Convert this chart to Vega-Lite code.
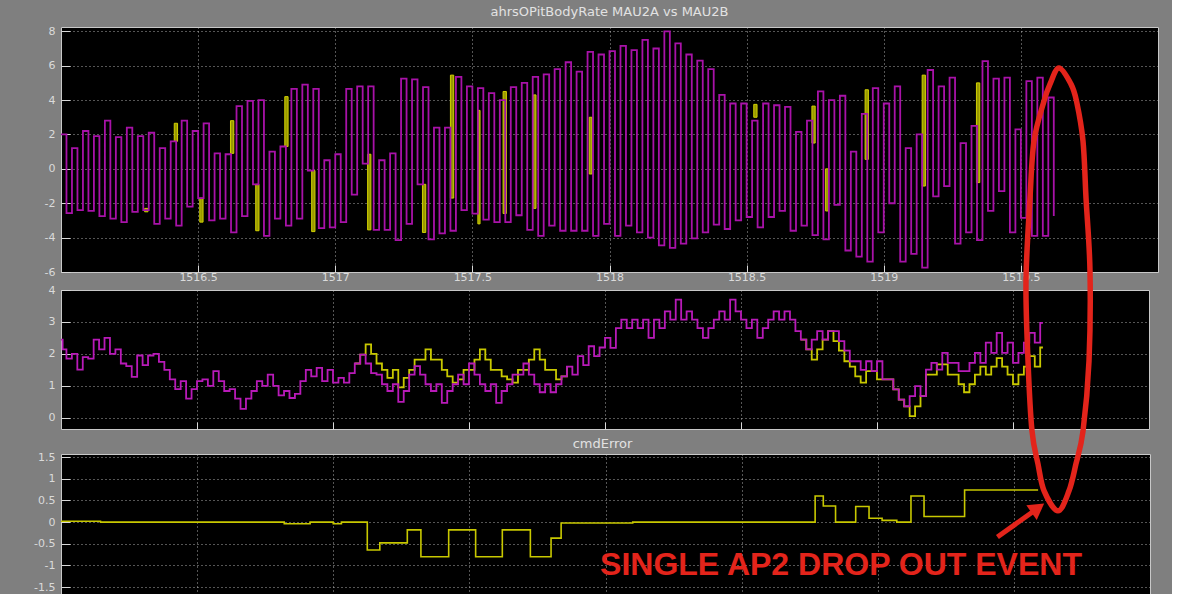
{
  "$schema": "https://vega.github.io/schema/vega-lite/v6.json",
  "background": "#7f7f7f",
  "padding": {"left": 0, "top": 0, "right": 13, "bottom": 0},
  "config": {
    "view": {"fill": "#000000", "stroke": "#c8c8c8", "strokeWidth": 1},
    "axis": {
      "labelColor": "#dadada", "labelFont": "DejaVu Sans", "labelFontSize": 11,
      "gridColor": "#c8c8c8", "gridDash": [1, 3], "gridWidth": 1, "gridOpacity": 0.85,
      "domain": false, "tickColor": "#d8d8d8", "tickWidth": 1
    },
    "title": {"color": "#e2e2e2", "font": "DejaVu Sans", "fontSize": 13, "fontWeight": "normal", "anchor": "middle", "frame": "group", "baseline": "alphabetic", "offset": 6}
  },
  "datasets": {
    "topB": [
{"t":1516.00,"v":2.0},{"t":1516.02,"v":-2.57},{"t":1516.04,"v":1.2},{"t":1516.06,"v":-2.4},{"t":1516.08,"v":2.2},{"t":1516.10,"v":-2.45},{"t":1516.12,"v":1.9},{"t":1516.14,"v":-2.75},{"t":1516.16,"v":2.8},{"t":1516.18,"v":-2.9},{"t":1516.20,"v":1.85},{"t":1516.22,"v":-3.1},{"t":1516.24,"v":2.4},{"t":1516.26,"v":-2.5},{"t":1516.28,"v":1.9},{"t":1516.30,"v":-2.4},{"t":1516.32,"v":2.1},{"t":1516.34,"v":-3.2},{"t":1516.36,"v":1.2},{"t":1516.38,"v":-2.9},{"t":1516.40,"v":1.6},{"t":1516.42,"v":-3.3},{"t":1516.44,"v":2.8},{"t":1516.46,"v":-2.2},{"t":1516.48,"v":2.2},{"t":1516.50,"v":-1.7},{"t":1516.52,"v":2.65},{"t":1516.54,"v":-3.0},{"t":1516.56,"v":0.9},{"t":1516.58,"v":-2.9},{"t":1516.60,"v":0.85},{"t":1516.62,"v":-3.7},{"t":1516.64,"v":3.65},{"t":1516.66,"v":-2.75},{"t":1516.68,"v":3.95},{"t":1516.70,"v":-0.9},{"t":1516.72,"v":4.0},{"t":1516.74,"v":-3.9},{"t":1516.76,"v":1.0},{"t":1516.78,"v":-2.9},{"t":1516.80,"v":1.3},{"t":1516.82,"v":-3.3},{"t":1516.84,"v":4.65},{"t":1516.86,"v":-2.9},{"t":1516.88,"v":4.9},{"t":1516.90,"v":-0.1},{"t":1516.92,"v":4.65},{"t":1516.94,"v":-3.45},{"t":1516.96,"v":0.5},{"t":1516.98,"v":-3.4},{"t":1517.00,"v":0.85},{"t":1517.02,"v":-3.1},{"t":1517.04,"v":4.65},{"t":1517.06,"v":-1.5},{"t":1517.08,"v":4.8},{"t":1517.10,"v":0.3},{"t":1517.12,"v":4.8},{"t":1517.14,"v":-3.55},{"t":1517.16,"v":0.5},{"t":1517.18,"v":-3.55},{"t":1517.20,"v":0.9},{"t":1517.22,"v":-4.15},{"t":1517.24,"v":5.25},{"t":1517.26,"v":-3.2},{"t":1517.28,"v":5.2},{"t":1517.30,"v":-0.9},{"t":1517.32,"v":4.75},{"t":1517.34,"v":-4.1},{"t":1517.36,"v":2.4},{"t":1517.38,"v":-3.75},{"t":1517.40,"v":2.4},{"t":1517.42,"v":-3.6},{"t":1517.44,"v":5.35},{"t":1517.46,"v":-2.4},{"t":1517.48,"v":4.8},{"t":1517.50,"v":-2.6},{"t":1517.52,"v":4.7},{"t":1517.54,"v":-2.95},{"t":1517.56,"v":4.4},{"t":1517.58,"v":-3.1},{"t":1517.60,"v":4.0},{"t":1517.62,"v":-3.1},{"t":1517.64,"v":4.75},{"t":1517.66,"v":-2.7},{"t":1517.68,"v":5.0},{"t":1517.70,"v":-3.55},{"t":1517.72,"v":5.35},{"t":1517.74,"v":-3.9},{"t":1517.76,"v":5.5},{"t":1517.78,"v":-3.3},{"t":1517.80,"v":5.8},{"t":1517.82,"v":-3.6},{"t":1517.84,"v":6.2},{"t":1517.86,"v":-3.6},{"t":1517.88,"v":5.65},{"t":1517.90,"v":-3.6},{"t":1517.92,"v":6.8},{"t":1517.94,"v":-3.9},{"t":1517.96,"v":6.65},{"t":1517.98,"v":-3.2},{"t":1518.00,"v":6.85},{"t":1518.02,"v":-3.9},{"t":1518.04,"v":7.15},{"t":1518.06,"v":-3.3},{"t":1518.08,"v":6.9},{"t":1518.10,"v":-3.7},{"t":1518.12,"v":7.5},{"t":1518.14,"v":-4.0},{"t":1518.16,"v":7.0},{"t":1518.18,"v":-4.45},{"t":1518.20,"v":8.0},{"t":1518.22,"v":-4.6},{"t":1518.24,"v":7.3},{"t":1518.26,"v":-4.35},{"t":1518.28,"v":6.65},{"t":1518.30,"v":-4.05},{"t":1518.32,"v":6.3},{"t":1518.34,"v":-3.7},{"t":1518.36,"v":5.8},{"t":1518.38,"v":-3.25},{"t":1518.40,"v":4.3},{"t":1518.42,"v":-3.5},{"t":1518.44,"v":3.8},{"t":1518.46,"v":-3.0},{"t":1518.48,"v":3.8},{"t":1518.50,"v":-2.8},{"t":1518.52,"v":2.8},{"t":1518.54,"v":-3.4},{"t":1518.56,"v":3.8},{"t":1518.58,"v":-2.8},{"t":1518.60,"v":3.7},{"t":1518.62,"v":-2.45},{"t":1518.64,"v":3.6},{"t":1518.66,"v":-3.6},{"t":1518.68,"v":2.15},{"t":1518.70,"v":-3.3},{"t":1518.72,"v":2.8},{"t":1518.74,"v":-3.85},{"t":1518.76,"v":4.5},{"t":1518.78,"v":-4.1},{"t":1518.80,"v":4.0},{"t":1518.82,"v":-2.1},{"t":1518.84,"v":4.25},{"t":1518.86,"v":-4.75},{"t":1518.88,"v":1.0},{"t":1518.90,"v":-5.1},{"t":1518.92,"v":3.2},{"t":1518.94,"v":-5.4},{"t":1518.96,"v":4.7},{"t":1518.98,"v":-3.7},{"t":1519.00,"v":3.8},{"t":1519.02,"v":-2.0},{"t":1519.04,"v":4.8},{"t":1519.06,"v":-5.4},{"t":1519.08,"v":1.2},{"t":1519.10,"v":-4.95},{"t":1519.12,"v":2.0},{"t":1519.14,"v":-5.75},{"t":1519.16,"v":5.75},{"t":1519.18,"v":-1.6},{"t":1519.20,"v":4.8},{"t":1519.22,"v":-1.0},{"t":1519.24,"v":5.3},{"t":1519.26,"v":-4.35},{"t":1519.28,"v":1.5},{"t":1519.30,"v":-3.7},{"t":1519.32,"v":2.5},{"t":1519.34,"v":-4.15},{"t":1519.36,"v":6.27},{"t":1519.38,"v":-2.45},{"t":1519.40,"v":5.25},{"t":1519.42,"v":-1.3},{"t":1519.44,"v":5.3},{"t":1519.46,"v":-3.7},{"t":1519.48,"v":2.3},{"t":1519.50,"v":-2.85},{"t":1519.52,"v":5.1},{"t":1519.54,"v":-3.9},{"t":1519.56,"v":5.3},{"t":1519.58,"v":-3.9},{"t":1519.60,"v":4.15},{"t":1519.62,"v":-2.75}
    ],
    "topA": [
{"t":1516.305,"t2":1516.317,"v1":-2.3,"v2":-2.5},{"t":1516.413,"t2":1516.425,"v1":1.6,"v2":2.65},{"t":1516.506,"t2":1516.518,"v1":-1.7,"v2":-3.1},{"t":1516.618,"t2":1516.630,"v1":0.9,"v2":2.8},{"t":1516.710,"t2":1516.722,"v1":-0.9,"v2":-3.6},{"t":1516.816,"t2":1516.828,"v1":1.3,"v2":4.2},{"t":1516.914,"t2":1516.926,"v1":-0.1,"v2":-3.65},{"t":1517.118,"t2":1517.130,"v1":0.85,"v2":-3.55},{"t":1517.318,"t2":1517.330,"v1":-0.9,"v2":-3.7},{"t":1517.420,"t2":1517.432,"v1":-1.7,"v2":5.45},{"t":1517.520,"t2":1517.528,"v1":-3.2,"v2":3.4},{"t":1517.612,"t2":1517.624,"v1":-2.6,"v2":4.5},{"t":1517.722,"t2":1517.732,"v1":-2.3,"v2":4.3},{"t":1517.926,"t2":1517.936,"v1":-0.3,"v2":3.0},{"t":1518.526,"t2":1518.538,"v1":3.0,"v2":3.75},{"t":1518.738,"t2":1518.750,"v1":1.5,"v2":3.65},{"t":1518.788,"t2":1518.798,"v1":-2.45,"v2":0.0},{"t":1518.932,"t2":1518.944,"v1":0.55,"v2":4.6},{"t":1519.140,"t2":1519.152,"v1":-1.0,"v2":5.45},{"t":1519.338,"t2":1519.350,"v1":-0.8,"v2":5.0}
    ],
    "midB": [
{"t":1516.000,"v":2.45},{"t":1516.006,"v":2.14},{"t":1516.02,"v":1.85},{"t":1516.04,"v":2.0},{"t":1516.06,"v":1.51},{"t":1516.08,"v":1.9},{"t":1516.10,"v":1.85},{"t":1516.12,"v":2.45},{"t":1516.14,"v":2.14},{"t":1516.16,"v":2.5},{"t":1516.18,"v":2.0},{"t":1516.20,"v":2.14},{"t":1516.22,"v":1.7},{"t":1516.24,"v":1.62},{"t":1516.26,"v":1.28},{"t":1516.28,"v":1.95},{"t":1516.30,"v":1.65},{"t":1516.32,"v":1.95},{"t":1516.34,"v":2.0},{"t":1516.36,"v":1.75},{"t":1516.38,"v":1.5},{"t":1516.40,"v":1.2},{"t":1516.42,"v":0.9},{"t":1516.44,"v":1.15},{"t":1516.46,"v":0.6},{"t":1516.48,"v":0.9},{"t":1516.50,"v":1.15},{"t":1516.52,"v":1.2},{"t":1516.54,"v":1.0},{"t":1516.56,"v":1.46},{"t":1516.58,"v":1.15},{"t":1516.60,"v":0.84},{"t":1516.62,"v":0.9},{"t":1516.64,"v":0.6},{"t":1516.66,"v":0.28},{"t":1516.68,"v":0.6},{"t":1516.70,"v":0.84},{"t":1516.72,"v":1.15},{"t":1516.74,"v":1.0},{"t":1516.76,"v":1.35},{"t":1516.78,"v":1.0},{"t":1516.80,"v":0.7},{"t":1516.82,"v":0.84},{"t":1516.84,"v":0.62},{"t":1516.86,"v":0.75},{"t":1516.88,"v":1.15},{"t":1516.90,"v":1.5},{"t":1516.92,"v":1.3},{"t":1516.94,"v":1.56},{"t":1516.96,"v":1.15},{"t":1516.98,"v":1.5},{"t":1517.00,"v":1.1},{"t":1517.02,"v":1.25},{"t":1517.04,"v":1.1},{"t":1517.06,"v":1.4},{"t":1517.08,"v":1.7},{"t":1517.10,"v":1.98},{"t":1517.12,"v":1.7},{"t":1517.14,"v":1.4},{"t":1517.16,"v":1.35},{"t":1517.18,"v":1.05},{"t":1517.20,"v":0.84},{"t":1517.22,"v":1.05},{"t":1517.24,"v":0.5},{"t":1517.26,"v":0.84},{"t":1517.28,"v":1.35},{"t":1517.30,"v":1.62},{"t":1517.32,"v":1.35},{"t":1517.34,"v":1.05},{"t":1517.36,"v":0.84},{"t":1517.38,"v":1.05},{"t":1517.40,"v":0.47},{"t":1517.42,"v":0.84},{"t":1517.44,"v":1.05},{"t":1517.46,"v":1.35},{"t":1517.48,"v":1.05},{"t":1517.50,"v":1.7},{"t":1517.52,"v":1.35},{"t":1517.54,"v":1.05},{"t":1517.56,"v":0.84},{"t":1517.58,"v":1.05},{"t":1517.60,"v":0.47},{"t":1517.62,"v":0.84},{"t":1517.64,"v":1.05},{"t":1517.66,"v":1.35},{"t":1517.68,"v":1.35},{"t":1517.70,"v":1.7},{"t":1517.72,"v":1.35},{"t":1517.74,"v":1.05},{"t":1517.76,"v":0.8},{"t":1517.78,"v":1.05},{"t":1517.80,"v":0.8},{"t":1517.82,"v":1.05},{"t":1517.84,"v":1.3},{"t":1517.86,"v":1.6},{"t":1517.88,"v":1.35},{"t":1517.90,"v":1.93},{"t":1517.92,"v":1.65},{"t":1517.94,"v":2.24},{"t":1517.96,"v":1.93},{"t":1517.98,"v":2.2},{"t":1518.00,"v":2.5},{"t":1518.02,"v":2.19},{"t":1518.04,"v":2.81},{"t":1518.06,"v":3.07},{"t":1518.08,"v":2.81},{"t":1518.10,"v":3.07},{"t":1518.12,"v":2.81},{"t":1518.14,"v":3.07},{"t":1518.16,"v":2.5},{"t":1518.18,"v":3.07},{"t":1518.20,"v":2.81},{"t":1518.22,"v":3.33},{"t":1518.24,"v":3.07},{"t":1518.26,"v":3.7},{"t":1518.28,"v":3.07},{"t":1518.30,"v":3.33},{"t":1518.32,"v":3.07},{"t":1518.34,"v":2.81},{"t":1518.36,"v":2.5},{"t":1518.38,"v":2.81},{"t":1518.40,"v":3.07},{"t":1518.42,"v":3.33},{"t":1518.44,"v":3.07},{"t":1518.46,"v":3.7},{"t":1518.48,"v":3.33},{"t":1518.50,"v":3.07},{"t":1518.52,"v":2.81},{"t":1518.54,"v":3.07},{"t":1518.56,"v":2.5},{"t":1518.58,"v":2.81},{"t":1518.60,"v":3.07},{"t":1518.62,"v":3.33},{"t":1518.64,"v":3.07},{"t":1518.66,"v":3.33},{"t":1518.68,"v":3.07},{"t":1518.70,"v":2.71},{"t":1518.72,"v":2.45},{"t":1518.74,"v":2.14},{"t":1518.76,"v":2.45},{"t":1518.78,"v":2.71},{"t":1518.80,"v":2.45},{"t":1518.82,"v":2.71},{"t":1518.84,"v":2.71},{"t":1518.86,"v":2.4},{"t":1518.88,"v":2.1},{"t":1518.90,"v":1.77},{"t":1518.92,"v":1.77},{"t":1518.94,"v":1.5},{"t":1518.96,"v":1.77},{"t":1518.98,"v":1.46},{"t":1519.00,"v":1.77},{"t":1519.02,"v":1.2},{"t":1519.04,"v":1.2},{"t":1519.06,"v":0.89},{"t":1519.08,"v":0.57},{"t":1519.10,"v":0.36},{"t":1519.12,"v":0.68},{"t":1519.14,"v":0.99},{"t":1519.16,"v":0.68},{"t":1519.18,"v":1.51},{"t":1519.20,"v":1.72},{"t":1519.22,"v":1.51},{"t":1519.24,"v":2.03},{"t":1519.26,"v":1.72},{"t":1519.28,"v":1.72},{"t":1519.30,"v":1.46},{"t":1519.32,"v":1.46},{"t":1519.34,"v":1.72},{"t":1519.36,"v":2.03},{"t":1519.38,"v":1.72},{"t":1519.40,"v":2.35},{"t":1519.42,"v":2.03},{"t":1519.44,"v":2.66},{"t":1519.46,"v":2.03},{"t":1519.48,"v":2.35},{"t":1519.50,"v":1.72},{"t":1519.52,"v":2.03},{"t":1519.54,"v":2.35},{"t":1519.56,"v":2.66},{"t":1519.58,"v":2.35},{"t":1519.60,"v":2.97},{"t":1519.61,"v":2.97}
    ],
    "midA": [
{"g":1,"t":1517.08,"v":1.7},{"g":1,"t":1517.10,"v":1.98},{"g":1,"t":1517.12,"v":2.3},{"g":1,"t":1517.14,"v":2.0},{"g":1,"t":1517.16,"v":1.7},{"g":1,"t":1517.18,"v":1.5},{"g":1,"t":1517.20,"v":1.25},{"g":1,"t":1517.22,"v":1.5},{"g":1,"t":1517.24,"v":0.95},{"g":1,"t":1517.26,"v":1.25},{"g":1,"t":1517.28,"v":1.5},{"g":1,"t":1517.30,"v":1.82},{"g":1,"t":1517.32,"v":1.82},{"g":1,"t":1517.34,"v":2.14},{"g":1,"t":1517.36,"v":1.82},{"g":1,"t":1517.38,"v":1.82},{"g":1,"t":1517.40,"v":1.5},{"g":1,"t":1517.42,"v":1.3},{"g":1,"t":1517.44,"v":1.1},{"g":1,"t":1517.46,"v":1.2},{"g":1,"t":1517.48,"v":1.5},{"g":1,"t":1517.50,"v":1.5},{"g":1,"t":1517.52,"v":1.82},{"g":1,"t":1517.54,"v":2.14},{"g":1,"t":1517.56,"v":1.82},{"g":1,"t":1517.58,"v":1.5},{"g":1,"t":1517.60,"v":1.5},{"g":1,"t":1517.62,"v":1.3},{"g":1,"t":1517.64,"v":1.2},{"g":1,"t":1517.66,"v":1.1},{"g":1,"t":1517.68,"v":1.5},{"g":1,"t":1517.70,"v":1.5},{"g":1,"t":1517.72,"v":1.82},{"g":1,"t":1517.74,"v":2.14},{"g":1,"t":1517.76,"v":1.82},{"g":1,"t":1517.78,"v":1.5},{"g":1,"t":1517.80,"v":1.5},{"g":1,"t":1517.82,"v":1.2},{"g":1,"t":1517.84,"v":1.3},{"g":1,"t":1517.86,"v":1.6},
{"g":2,"t":1518.72,"v":2.45},{"g":2,"t":1518.74,"v":2.14},{"g":2,"t":1518.76,"v":1.82},{"g":2,"t":1518.78,"v":2.14},{"g":2,"t":1518.80,"v":2.45},{"g":2,"t":1518.82,"v":2.71},{"g":2,"t":1518.84,"v":2.4},{"g":2,"t":1518.86,"v":2.1},{"g":2,"t":1518.88,"v":1.77},{"g":2,"t":1518.90,"v":1.6},{"g":2,"t":1518.92,"v":1.3},{"g":2,"t":1518.94,"v":1.1},{"g":2,"t":1518.96,"v":1.46},{"g":2,"t":1518.98,"v":1.46},{"g":2,"t":1519.00,"v":1.2},{"g":2,"t":1519.02,"v":1.2},{"g":2,"t":1519.04,"v":1.2},{"g":2,"t":1519.06,"v":0.89},{"g":2,"t":1519.08,"v":0.57},{"g":2,"t":1519.10,"v":0.36},{"g":2,"t":1519.12,"v":0.05},{"g":2,"t":1519.14,"v":0.36},{"g":2,"t":1519.16,"v":0.68},{"g":2,"t":1519.18,"v":1.35},{"g":2,"t":1519.20,"v":1.35},{"g":2,"t":1519.22,"v":1.67},{"g":2,"t":1519.24,"v":1.67},{"g":2,"t":1519.26,"v":1.35},{"g":2,"t":1519.28,"v":1.35},{"g":2,"t":1519.30,"v":1.05},{"g":2,"t":1519.32,"v":0.8},{"g":2,"t":1519.34,"v":1.05},{"g":2,"t":1519.36,"v":1.35},{"g":2,"t":1519.38,"v":1.6},{"g":2,"t":1519.40,"v":1.35},{"g":2,"t":1519.42,"v":1.6},{"g":2,"t":1519.44,"v":1.87},{"g":2,"t":1519.46,"v":1.6},{"g":2,"t":1519.48,"v":1.35},{"g":2,"t":1519.50,"v":1.05},{"g":2,"t":1519.52,"v":1.35},{"g":2,"t":1519.54,"v":1.6},{"g":2,"t":1519.56,"v":1.93},{"g":2,"t":1519.58,"v":1.6},{"g":2,"t":1519.60,"v":2.2},{"g":2,"t":1519.61,"v":2.2}
    ],
    "err": [
{"t":1516.000,"v":0.02},{"t":1516.145,"v":0.0},{"t":1516.820,"v":-0.04},{"t":1516.915,"v":0.0},{"t":1517.000,"v":-0.04},{"t":1517.030,"v":0.0},{"t":1517.125,"v":-0.645},{"t":1517.171,"v":-0.48},{"t":1517.272,"v":-0.18},{"t":1517.322,"v":-0.8},{"t":1517.424,"v":-0.18},{"t":1517.523,"v":-0.8},{"t":1517.621,"v":-0.18},{"t":1517.724,"v":-0.8},{"t":1517.800,"v":-0.37},{"t":1517.837,"v":-0.02},{"t":1518.100,"v":0.0},{"t":1518.770,"v":0.6},{"t":1518.800,"v":0.37},{"t":1518.845,"v":0.0},{"t":1518.919,"v":0.36},{"t":1518.968,"v":0.09},{"t":1519.016,"v":0.04},{"t":1519.070,"v":0.0},{"t":1519.122,"v":0.6},{"t":1519.170,"v":0.13},{"t":1519.319,"v":0.74},{"t":1519.589,"v":0.74}
    ],
    "ring": [
{"i":1,"t":1519.6657,"v":10.47},{"i":2,"t":1519.7098,"v":10.10},{"i":3,"t":1519.7300,"v":9.71},{"i":4,"t":1519.7539,"v":8.79},{"i":5,"t":1519.7650,"v":7.47},{"i":6,"t":1519.7796,"v":5.79},{"i":7,"t":1519.7760,"v":3.72},{"i":8,"t":1519.7540,"v":2.10},{"i":9,"t":1519.7280,"v":1.34},{"i":10,"t":1519.7025,"v":0.72},{"i":11,"t":1519.6620,"v":0.26},{"i":12,"t":1519.6110,"v":0.72},{"i":13,"t":1519.5886,"v":1.34},{"i":14,"t":1519.5666,"v":2.10},{"i":15,"t":1519.5519,"v":3.72},{"i":16,"t":1519.5445,"v":5.56},{"i":17,"t":1519.5592,"v":7.47},{"i":18,"t":1519.5740,"v":8.79},{"i":19,"t":1519.6107,"v":9.71},{"i":20,"t":1519.6327,"v":10.10}
    ],
    "arrow": [{"t":1519.4395,"v":-0.344,"t2":1519.575,"v2":0.26}],
    "head": [{"t":1519.588,"v":0.322}],
    "note": [{"t":1518.865,"v":-1.221,"label":"SINGLE AP2 DROP OUT EVENT"}]
  },
  "bounds": "flush",
  "spacing": 18,
  "vconcat": [
    {
      "width": 1097,
      "height": 245,
      "title": {"text": "ahrsOPitBodyRate MAU2A vs MAU2B"},
      "encoding": {
        "x": {"field": "t", "type": "quantitative", "scale": {"domain": [1516, 1520], "nice": false, "zero": false},
              "axis": {"values": [1516.5, 1517, 1517.5, 1518, 1518.5, 1519, 1519.5], "format": "~g", "grid": true, "tickSize": -7, "labelPadding": 6, "title": null}},
        "y": {"type": "quantitative", "scale": {"domain": [-6, 8.25], "nice": false, "zero": false},
              "axis": {"values": [-6, -4, -2, 0, 2, 4, 6, 8], "grid": true, "tickSize": -9, "labelPadding": 15,
                       "labelExpr": "replace(datum.label, '−', '-')", "title": null}}
      },
      "layer": [
        {
          "data": {"name": "topA"},
          "mark": {"type": "rect", "fill": "#9a9a00", "stroke": "#d0d000", "strokeWidth": 1},
          "encoding": {"x2": {"field": "t2"}, "y": {"field": "v1", "type": "quantitative"}, "y2": {"field": "v2"}}
        },
        {
          "data": {"name": "topB"},
          "mark": {"type": "line", "interpolate": "step-after", "color": "#a812a8", "strokeWidth": 1.8},
          "encoding": {"y": {"field": "v", "type": "quantitative"}}
        }
      ]
    },
    {
      "bounds": "flush",
      "spacing": 25,
      "vconcat": [
        {
          "width": 1088,
          "height": 139,
          "encoding": {
            "x": {"field": "t", "type": "quantitative", "scale": {"domain": [1516, 1520], "nice": false, "zero": false},
                  "axis": {"values": [1516.5, 1517, 1517.5, 1518, 1518.5, 1519, 1519.5], "grid": true, "labels": false, "tickSize": -7,
                           "title": "cmdError", "titleX": 541, "titleY": 18, "titleAlign": "center", "titleBaseline": "alphabetic", "titleAngle": 0,
                           "titleColor": "#e2e2e2", "titleFont": "DejaVu Sans", "titleFontSize": 13, "titleFontWeight": "normal"}},
            "y": {"field": "v", "type": "quantitative", "scale": {"domain": [-0.35, 4], "nice": false, "zero": false},
                  "axis": {"values": [0, 1, 2, 3, 4], "grid": true, "tickSize": -9, "labelPadding": 15,
                           "title": " ", "titleX": -60, "titleY": -289, "titleAngle": 0, "titleAlign": "left", "titleBaseline": "top", "titleColor": "#7f7f7f", "titleFontSize": 8}}
          },
          "layer": [
            {
              "data": {"name": "midA"},
              "mark": {"type": "line", "interpolate": "step-after", "color": "#c8c800", "strokeWidth": 1.8},
              "encoding": {"detail": {"field": "g"}}
            },
            {
              "data": {"name": "midB"},
              "mark": {"type": "line", "interpolate": "step-after", "color": "#b81ab8", "strokeWidth": 1.8},
              "encoding": {}
            }
          ]
        },
        {
          "width": 1089,
          "height": 147,
          "encoding": {
            "x": {"field": "t", "type": "quantitative", "scale": {"domain": [1516, 1520], "nice": false, "zero": false},
                  "axis": {"values": [1516.5, 1517, 1517.5, 1518, 1518.5, 1519, 1519.5], "grid": true, "labels": false, "tickSize": -7, "title": null}},
            "y": {"field": "v", "type": "quantitative", "scale": {"domain": [-1.82, 1.57], "nice": false, "zero": false},
                  "axis": {"values": [-1.5, -1, -0.5, 0, 0.5, 1, 1.5], "format": "~g", "grid": true, "tickSize": -9, "labelPadding": 15,
                           "labelExpr": "replace(datum.label, '−', '-')", "title": null}}
          },
          "layer": [
            {
              "data": {"name": "err"},
              "mark": {"type": "line", "interpolate": "step-after", "color": "#c8c800", "strokeWidth": 1.6},
              "encoding": {}
            },
            {
              "data": {"name": "ring"},
              "mark": {"type": "line", "interpolate": "cardinal-closed", "color": "#e3241b", "strokeWidth": 5.5},
              "encoding": {"order": {"field": "i", "type": "quantitative"}}
            },
            {
              "data": {"name": "arrow"},
              "mark": {"type": "rule", "color": "#e3241b", "strokeWidth": 5, "strokeCap": "butt"},
              "encoding": {"x2": {"field": "t2"}, "y2": {"field": "v2"}}
            },
            {
              "data": {"name": "head"},
              "mark": {"type": "point", "shape": "triangle-up", "filled": true, "color": "#e3241b", "opacity": 1, "size": 320, "angle": 54.5},
              "encoding": {}
            },
            {
              "data": {"name": "note"},
              "mark": {"type": "text", "color": "#e3241b", "font": "Liberation Sans", "fontSize": 32, "fontWeight": "bold", "align": "center", "baseline": "alphabetic"},
              "encoding": {"text": {"field": "label"}}
            }
          ]
        }
      ]
    }
  ]
}
